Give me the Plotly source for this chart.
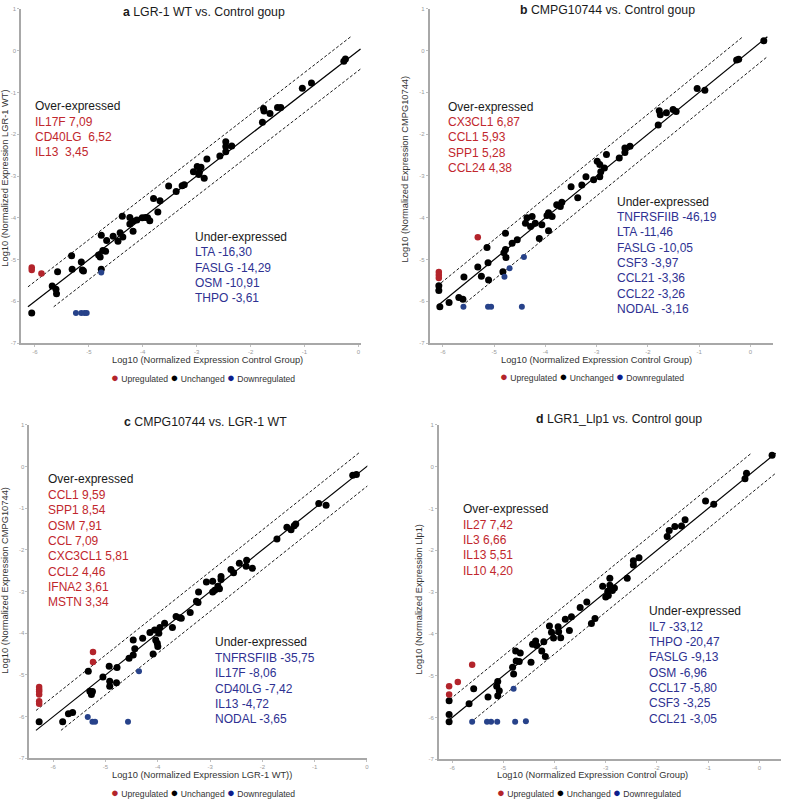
import math
import plotly.graph_objects as go

W, H = 787, 803
FONT = "Arial, Liberation Sans, sans-serif"
RED_PT, BLACK_PT, BLUE_PT = "#b3242b", "#000000", "#27428a"
RED_TXT, BLUE_TXT, INK = "#c1272d", "#2e3192", "#1a1a1a"
FOLD_CHANGE = 3  # dashed lines = 3-fold up / down

X_TICKS = [-6, -5, -4, -3, -2, -1, 0]
Y_TICKS = [-7, -6, -5, -4, -3, -2, -1, 0, 1]
LEGEND_LABELS = ["Upregulated", "Unchanged", "Downregulated"]

# ---------------- panel a
A_TITLE = ("a", "LGR-1 WT vs. Control goup")
A_XLABEL = "Log10 (Normalized Expression Control Group)"
A_YLABEL = "Log10 (Normalized Expression LGR-1 WT)"
A_OVER = ["IL17F 7,09", "CD40LG\u00a0 6,52", "IL13\u00a0 3,45"]
A_UNDER = ["LTA -16,30", "FASLG -14,29", "OSM -10,91", "THPO -3,61"]
A_UNCHANGED = [
    (-0.27, -0.25), (-0.24, -0.20), (-1.04, -0.90), (-0.87, -0.77),
    (-1.76, -1.38), (-1.75, -1.44), (-1.78, -1.71), (-1.64, -1.50), (-1.50, -1.36), (-1.44, -1.36),
    (-2.46, -2.18), (-2.46, -2.29), (-2.35, -2.28), (-2.46, -2.42), (-2.57, -2.52), (-2.81, -2.59),
    (-2.99, -2.77), (-2.92, -2.79), (-3.06, -2.90), (-2.95, -2.91), (-2.96, -2.96), (-2.86, -3.05),
    (-3.52, -3.24), (-3.27, -3.23), (-3.23, -3.21), (-3.38, -3.37), (-3.80, -3.54), (-3.68, -3.59),
    (-3.72, -3.86), (-4.38, -3.96), (-4.24, -3.99), (-4.19, -4.08), (-4.24, -4.15), (-4.11, -4.05),
    (-4.01, -4.00), (-3.95, -3.99), (-3.91, -4.00), (-3.87, -4.07), (-4.18, -4.32),
    (-4.77, -4.42), (-4.55, -4.44), (-4.46, -4.56), (-4.42, -4.36), (-4.37, -4.46), (-4.67, -4.54),
    (-4.82, -4.89), (-4.79, -4.94), (-4.74, -4.78), (-4.69, -4.80), (-4.77, -5.23),
    (-5.32, -4.91), (-5.31, -5.23), (-5.14, -5.06), (-5.12, -5.25), (-5.10, -5.27), (-5.58, -5.29),
    (-5.68, -5.63), (-5.61, -5.71), (-5.60, -5.82), (-6.06, -6.28),
]
A_UP = [(-6.06, -5.19), (-6.06, -5.25), (-5.88, -5.33)]
A_DOWN = [(-4.77, -5.31), (-5.24, -6.28), (-5.14, -6.28), (-5.08, -6.28), (-5.04, -6.28)]

# ---------------- panel b
B_TITLE = ("b", "CMPG10744 vs. Control goup")
B_XLABEL = "Log10 (Normalized Expression Control Group)"
B_YLABEL = "Log10 (Normalized Expression CMPG10744)"
B_OVER = ["CX3CL1 6,87", "CCL1 5,93", "SPP1 5,28", "CCL24 4,38"]
B_UNDER = ["TNFRSFIIB -46,19", "LTA -11,46", "FASLG -10,05", "CSF3 -3,97",
           "CCL21 -3,36", "CCL22 -3,26", "NODAL -3,16"]
B_UNCHANGED = [
    (0.26, 0.23), (-0.27, -0.23), (-0.23, -0.21), (-1.04, -0.91), (-0.89, -0.95),
    (-1.78, -1.44), (-1.76, -1.54), (-1.64, -1.49), (-1.51, -1.41), (-1.45, -1.46), (-1.80, -1.78),
    (-2.35, -2.29), (-2.45, -2.33), (-2.45, -2.44), (-2.56, -2.57), (-2.81, -2.49),
    (-2.99, -2.65), (-2.94, -2.73), (-2.85, -2.81), (-2.92, -2.90), (-2.94, -3.02), (-3.06, -3.09),
    (-3.21, -3.02), (-3.29, -3.22), (-3.50, -3.26), (-3.37, -3.52),
    (-3.68, -3.63), (-3.78, -3.69), (-3.71, -3.73), (-3.94, -3.88), (-3.97, -3.95), (-3.87, -3.97),
    (-4.36, -4.00), (-4.26, -3.97), (-4.39, -4.13), (-4.20, -4.13), (-4.29, -4.21), (-3.94, -4.31),
    (-4.07, -4.17), (-4.12, -4.50), (-4.55, -4.53), (-4.65, -4.61), (-4.78, -4.76), (-4.81, -4.84),
    (-4.78, -4.37), (-4.77, -4.95), (-4.83, -5.29), (-5.14, -4.71), (-5.12, -5.08), (-5.11, -5.49),
    (-5.32, -5.18), (-5.25, -5.40), (-5.59, -5.42), (-5.69, -5.91), (-5.61, -5.95), (-5.88, -6.03),
    (-6.08, -5.63), (-6.08, -5.74), (-6.06, -6.13),
]
B_UP = [(-6.08, -5.30), (-6.08, -5.37), (-6.08, -5.44), (-5.32, -4.47)]
B_DOWN = [(-5.60, -6.13), (-5.12, -6.13), (-5.06, -6.13), (-4.46, -6.13),
          (-4.80, -5.41), (-4.70, -5.21), (-4.42, -4.94)]

# ---------------- panel c
C_TITLE = ("c", "CMPG10744 vs. LGR-1 WT")
C_XLABEL = "Log10 (Normalized Expression LGR-1 WT))"
C_YLABEL = "Log10 (Normalized Expression CMPG10744)"
C_OVER = ["CCL1 9,59", "SPP1 8,54", "OSM 7,91", "CCL 7,09", "CXC3CL1 5,81",
          "CCL2 4,46", "IFNA2 3,61", "MSTN 3,34"]
C_UNDER = ["TNFRSFIIB -35,75", "IL17F -8,06", "CD40LG -7,42", "IL13 -4,72", "NODAL -3,65"]
C_UNCHANGED = [
    (-0.27, -0.21), (-0.20, -0.19), (-0.92, -0.89), (-0.78, -0.93),
    (-1.53, -1.46), (-1.45, -1.52), (-1.39, -1.42), (-1.36, -1.38), (-1.72, -1.74),
    (-2.30, -2.25), (-2.31, -2.39), (-2.19, -2.44), (-2.44, -2.32), (-2.60, -2.47), (-2.55, -2.55),
    (-2.79, -2.64), (-2.79, -2.71), (-2.82, -2.93), (-2.91, -2.97), (-2.95, -2.75), (-3.07, -2.77),
    (-2.85, -2.87), (-2.95, -3.01), (-3.22, -3.01), (-3.26, -3.23), (-3.23, -3.26),
    (-3.65, -3.60), (-3.58, -3.63), (-3.55, -3.64), (-3.38, -3.50), (-3.87, -3.76), (-3.72, -3.86),
    (-4.15, -3.98), (-4.06, -3.92), (-3.98, -4.00), (-3.96, -3.86), (-4.04, -4.16), (-4.01, -4.24),
    (-4.00, -4.32), (-4.29, -4.12), (-4.47, -4.16), (-4.44, -4.37), (-4.47, -4.52), (-4.55, -4.60),
    (-4.09, -4.50), (-4.78, -4.82), (-4.93, -4.79), (-5.05, -5.05), (-4.92, -5.15), (-4.92, -5.27),
    (-4.79, -5.19), (-5.33, -4.91), (-5.30, -5.39), (-5.27, -5.47), (-5.25, -5.40),
    (-5.71, -5.93), (-5.63, -5.90), (-5.82, -6.12), (-6.27, -6.12),
]
C_UP = [(-5.24, -4.45), (-5.24, -4.69), (-6.27, -5.29), (-6.27, -5.35), (-6.27, -5.40),
        (-6.27, -5.47), (-6.27, -5.63), (-6.27, -5.69)]
C_DOWN = [(-4.36, -4.91), (-5.34, -6.01), (-5.25, -6.12), (-5.20, -6.12), (-4.57, -6.12)]

# ---------------- panel d
D_TITLE = ("d", "LGR1_Llp1 vs. Control goup")
D_XLABEL = "Log10 (Normalized Expression Control Group)"
D_YLABEL = "Log10 (Normalized Expression Llp1)"
D_OVER = ["IL27 7,42", "IL3 6,66", "IL13 5,51", "IL10 4,20"]
D_UNDER = ["IL7 -33,12", "THPO -20,47", "FASLG -9,13", "OSM -6,96",
           "CCL17 -5,80", "CSF3 -3,25", "CCL21 -3,05"]
D_UNCHANGED = [
    (0.25, 0.27), (-0.25, -0.16), (-0.28, -0.29), (-1.05, -0.82), (-0.89, -0.90),
    (-1.45, -1.27), (-1.52, -1.42), (-1.65, -1.43), (-1.76, -1.53), (-1.80, -1.67),
    (-2.35, -2.18), (-2.46, -2.25), (-2.46, -2.35), (-2.58, -2.67),
    (-2.92, -2.67), (-2.92, -2.84), (-2.83, -2.90), (-2.87, -2.96), (-3.06, -2.86), (-2.96, -2.98),
    (-2.95, -3.08), (-3.00, -3.12), (-3.37, -3.24), (-3.50, -3.37), (-3.67, -3.59), (-3.79, -3.65),
    (-3.71, -3.92), (-3.93, -3.83), (-3.92, -3.95), (-3.88, -4.09), (-4.10, -3.81), (-4.02, -4.10),
    (-4.06, -3.96), (-3.28, -3.75), (-3.21, -3.63),
    (-4.43, -4.25), (-4.37, -4.17), (-4.35, -4.28), (-4.21, -4.19), (-4.25, -4.41), (-4.18, -4.54),
    (-4.46, -4.68), (-4.76, -4.41), (-4.75, -4.65), (-4.69, -4.66), (-4.67, -4.46), (-4.82, -4.80),
    (-4.80, -4.96), (-5.11, -5.14), (-5.08, -5.36), (-5.13, -5.25), (-5.11, -5.48), (-5.30, -5.51),
    (-5.58, -5.31), (-5.67, -5.67), (-6.06, -5.60), (-6.06, -5.93), (-6.06, -6.10),
]
D_UP = [(-5.61, -4.74), (-5.89, -5.15), (-6.06, -5.25), (-6.06, -5.45)]
D_DOWN = [(-4.80, -5.31), (-5.61, -6.10), (-5.32, -6.10), (-5.24, -6.10), (-5.12, -6.10),
          (-4.77, -6.10), (-4.56, -6.09)]

# ---------------- layout of each panel (pixel positions in the 787x803 page)
PANELS = [
    dict(title=A_TITLE, xlabel=A_XLABEL, ylabel=A_YLABEL, over=A_OVER, under=A_UNDER,
         unch=A_UNCHANGED, up=A_UP, down=A_DOWN,
         box=(21, 362, 6, 342.7), xrange=[-6.26, 0.05], lines=(-6.13, 0.04, 0.34),
         title_at=(205, 9), xlab_at=(207.7, 360), ylab_at=(5, 176),
         over_at=(33, 104), under_at=(193.3, 235.7), legend_at=(204, 377)),
    dict(title=B_TITLE, xlabel=B_XLABEL, ylabel=B_YLABEL, over=B_OVER, under=B_UNDER,
         unch=B_UNCHANGED, up=B_UP, down=B_DOWN,
         box=(430.7, 775, 5.7, 342.7), xrange=[-6.26, 0.44], lines=(-6.11, 0.33, 0.33),
         title_at=(609.5, 7.5), xlab_at=(598, 360), ylab_at=(405.7, 167),
         over_at=(447.3, 104.3), under_at=(616.7, 200), legend_at=(594, 376.7)),
    dict(title=C_TITLE, xlabel=C_XLABEL, ylabel=C_YLABEL, over=C_OVER, under=C_UNDER,
         unch=C_UNCHANGED, up=C_UP, down=C_DOWN,
         box=(29.3, 368.3, 425, 761), xrange=[-6.46, 0.01], lines=(-6.33, 0.02, 0.34),
         title_at=(205.7, 421.7), xlab_at=(202.7, 778.3), ylab_at=(5, 581),
         over_at=(45.7, 480), under_at=(213.3, 644.3), legend_at=(204, 795.5)),
    dict(title=D_TITLE, xlabel=D_XLABEL, ylabel=D_YLABEL, over=D_OVER, under=D_UNDER,
         unch=D_UNCHANGED, up=D_UP, down=D_DOWN,
         box=(440, 783.3, 425, 762), xrange=[-6.26, 0.43], lines=(-6.12, 0.32, 0.33),
         title_at=(620.7, 419.3), xlab_at=(594, 778.3), ylab_at=(420, 601),
         over_at=(461.7, 510), under_at=(648.3, 612.7), legend_at=(590, 795)),
]
LINE_STEP = 15.5


def px_x(p):
    return p / W


def px_y(p):
    return 1 - p / H


fig = go.Figure()
annotations = []
t = math.log10(FOLD_CHANGE)

for i, p in enumerate(PANELS, start=1):
    sfx = "" if i == 1 else str(i)
    xa, ya = "x" + sfx, "y" + sfx

    # identity line and +/- fold-change lines
    lo, hx, hy = p["lines"]
    e = min(hx, hy)
    fig.add_trace(go.Scatter(x=[lo, e], y=[lo, e], mode="lines",
                             line=dict(color="black", width=1.2),
                             xaxis=xa, yaxis=ya, showlegend=False, hoverinfo="skip"))
    e = min(hx, hy - t)
    fig.add_trace(go.Scatter(x=[lo, e], y=[lo + t, e + t], mode="lines",
                             line=dict(color="black", width=0.9, dash="3px,2px"),
                             xaxis=xa, yaxis=ya, showlegend=False, hoverinfo="skip"))
    s = lo + t
    fig.add_trace(go.Scatter(x=[s, hx], y=[s - t, hx - t], mode="lines",
                             line=dict(color="black", width=0.9, dash="3px,2px"),
                             xaxis=xa, yaxis=ya, showlegend=False, hoverinfo="skip"))

    for pts, color, size in ((p["unch"], BLACK_PT, 7), (p["up"], RED_PT, 6.5), (p["down"], BLUE_PT, 6)):
        fig.add_trace(go.Scatter(x=[v[0] for v in pts], y=[v[1] for v in pts], mode="markers",
                                 marker=dict(color=color, size=size, line=dict(width=0)),
                                 xaxis=xa, yaxis=ya, showlegend=False, hoverinfo="skip"))

    x0, x1, y0, y1 = p["box"]
    common = dict(showgrid=False, zeroline=False, showline=True, linecolor="#a8a8a8",
                  linewidth=1.5, ticks="outside", ticklen=2, tickcolor="#c0c0c0",
                  tickfont=dict(size=6, color="#9a9a9a", family=FONT))
    fig.layout["xaxis" + sfx] = dict(domain=[px_x(x0), px_x(x1)], range=p["xrange"], anchor=ya,
                                     tickvals=X_TICKS, ticktext=[str(v) for v in X_TICKS], **common)
    fig.layout["yaxis" + sfx] = dict(domain=[px_y(y1), px_y(y0)], range=[-7, 1], anchor=xa,
                                     tickvals=Y_TICKS, ticktext=[str(v) for v in Y_TICKS], **common)

    letter, rest = p["title"]
    annotations.append(dict(text=f"<b>{letter}</b> {rest}", x=px_x(p["title_at"][0]),
                            y=px_y(p["title_at"][1]), font=dict(size=12.3, color=INK)))
    annotations.append(dict(text=p["xlabel"], x=px_x(p["xlab_at"][0]), y=px_y(p["xlab_at"][1]),
                            font=dict(size=9.3, color="#333333")))
    annotations.append(dict(text=p["ylabel"], x=px_x(p["ylab_at"][0]), y=px_y(p["ylab_at"][1]),
                            textangle=-90, font=dict(size=9.3, color="#333333")))

    for label, lines, color, (lx, ly) in (("Over-expressed", p["over"], RED_TXT, p["over_at"]),
                                          ("Under-expressed", p["under"], BLUE_TXT, p["under_at"])):
        for k, txt in enumerate([label] + lines):
            annotations.append(dict(text=txt, x=px_x(lx), y=px_y(ly + k * LINE_STEP), xanchor="left",
                                    font=dict(size=12, color=INK if k == 0 else color)))

    dot = "<span style='color:{};font-size:13px'>\u25cf</span>"
    legend_text = " ".join(dot.format(c) + " " + lab
                           for c, lab in zip((RED_PT, BLACK_PT, "#0d1d8c"), LEGEND_LABELS))
    annotations.append(dict(text=legend_text, x=px_x(p["legend_at"][0]), y=px_y(p["legend_at"][1]),
                            font=dict(size=8.6, color="#333333")))

for a in annotations:
    a.update(xref="paper", yref="paper", showarrow=False)
    a.setdefault("xanchor", "center")
    a.setdefault("yanchor", "middle")

fig.update_layout(
    width=W, height=H,
    margin=dict(l=0, r=0, t=0, b=0),
    paper_bgcolor="white", plot_bgcolor="white",
    font=dict(family=FONT),
    annotations=annotations,
    showlegend=False,
)

# drop the browser's default 8px body margin so the figure sits at the page corner
fig.write_html("out.html", config={"displayModeBar": False},
               post_script="document.body.style.margin='0';document.body.style.overflow='hidden';")
